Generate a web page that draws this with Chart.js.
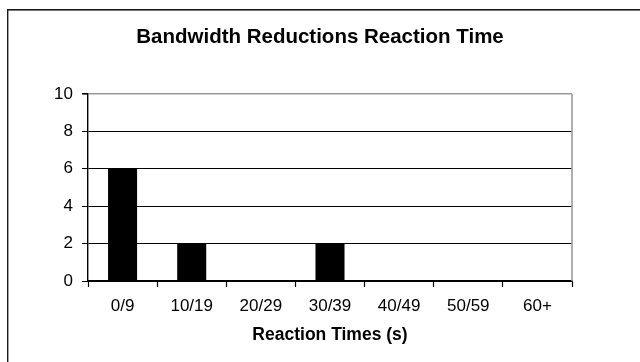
<!DOCTYPE html>
<html>
<head>
<meta charset="utf-8">
<script src="https://cdn.jsdelivr.net/npm/chart.js@4/dist/chart.umd.min.js"></script>
<style>
  html, body { margin: 0; padding: 0; background: #fff; }
  #wrap { width: 640px; height: 362px; position: relative; }
</style>
</head>
<body>
<div id="wrap"><canvas id="chart" width="640" height="362"></canvas></div>
<script>
// Reaction time buckets and how many bandwidth reductions fell in each
const categories = ['0/9', '10/19', '20/29', '30/39', '40/49', '50/59', '60+'];
const counts = [6, 2, 0, 2, 0, 0, 0];
const yTicks = [0, 2, 4, 6, 8, 10];

const FONT = "'Liberation Sans', Arial, Helvetica, sans-serif";

// White page with a dark frame along the top and left edges
const framePlugin = {
  id: 'frame',
  beforeDraw(chart) {
    const ctx = chart.ctx;
    ctx.save();
    ctx.fillStyle = '#fff';
    ctx.fillRect(0, 0, chart.width, chart.height);
    ctx.fillStyle = '#1a1a1a';
    ctx.fillRect(7, 9, chart.width - 7, 1.6);
    ctx.fillRect(7, 9, 1.4, chart.height - 9);
    ctx.restore();
  }
};

// Grey border on the right side of the plot area
const plotBorderPlugin = {
  id: 'plotBorder',
  afterDatasetsDraw(chart) {
    const { ctx, chartArea } = chart;
    ctx.save();
    ctx.strokeStyle = '#9a9a9a';
    ctx.lineWidth = 1.6;
    ctx.beginPath();
    ctx.moveTo(chartArea.right, chartArea.top);
    ctx.lineTo(chartArea.right, chartArea.bottom);
    ctx.stroke();
    ctx.restore();
  }
};

new Chart(document.getElementById('chart'), {
  type: 'bar',
  data: {
    labels: categories,
    datasets: [{
      data: counts,
      backgroundColor: '#000',
      borderColor: '#000',
      borderWidth: 0,
      categoryPercentage: 1,
      barPercentage: 0.42
    }]
  },
  options: {
    responsive: false,
    animation: false,
    devicePixelRatio: 1,
    layout: { padding: 0 },
    plugins: {
      legend: { display: false },
      tooltip: { enabled: false },
      title: {
        display: true,
        text: 'Bandwidth Reductions Reaction Time',
        color: '#000',
        font: { family: FONT, size: 20.5, weight: 'bold' },
        padding: { top: 24.7, bottom: 44.7 }
      }
    },
    scales: {
      x: {
        afterFit(axis) { axis.height = 81; },
        grid: {
          offset: true,
          drawOnChartArea: false,
          drawTicks: true,
          tickLength: 6,
          tickColor: '#000',
          tickWidth: 1.2
        },
        border: { color: '#000', width: 1.4 },
        ticks: {
          color: '#000',
          font: { family: FONT, size: 17 },
          padding: 9.3,
          maxRotation: 0
        },
        title: {
          display: true,
          text: 'Reaction Times (s)',
          color: '#000',
          font: { family: FONT, size: 17.5, weight: 'bold' },
          padding: { top: 0, bottom: 16.5 }
        }
      },
      y: {
        min: 0,
        max: 10,
        afterFit(axis) { axis.width = 88; },
        afterBuildTicks(axis) { axis.ticks = yTicks.map(v => ({ value: v })); },
        grid: {
          color: ctx => (ctx.tick && ctx.tick.value === 10 ? '#9a9a9a' : '#000'),
          lineWidth: ctx => (ctx.tick && ctx.tick.value === 10 ? 1.6 : 1),
          drawTicks: true,
          tickLength: 6,
          tickColor: '#000'
        },
        border: { color: '#000', width: 1.4 },
        ticks: {
          color: '#000',
          font: { family: FONT, size: 17 },
          padding: 9
        }
      },
      // Empty right-hand margin so the title stays centred on the whole page
      yRight: {
        position: 'right',
        min: 0,
        max: 10,
        afterFit(axis) { axis.width = 68; },
        grid: { display: false },
        border: { display: false },
        ticks: { display: false }
      }
    }
  },
  plugins: [framePlugin, plotBorderPlugin]
});
</script>
</body>
</html>
